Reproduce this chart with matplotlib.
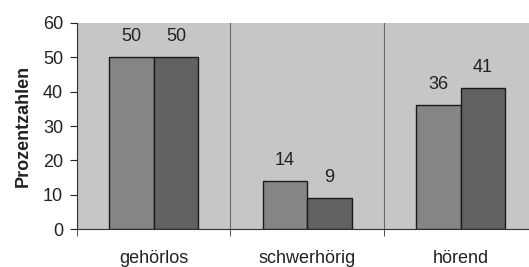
import numpy as np
from matplotlib import pyplot as plt

categories = ["gehörlos", "schwerhörig", "hörend"]
series_a = [50, 14, 36]
series_b = [50, 9, 41]

plt.rcParams['font.family'] = ['Liberation Sans', 'DejaVu Sans']

fig = plt.figure(figsize=(5.29, 2.67), dpi=100)
ax = fig.add_axes([0.1456, 0.142, 0.87, 0.772])
ax.set_facecolor('#c6c6c6')

x = np.arange(len(categories))
width = 0.29
bars_a = ax.bar(x - width / 2, series_a, width, color='#858585', edgecolor='#1a1a1a', linewidth=1.0)
bars_b = ax.bar(x + width / 2, series_b, width, color='#626262', edgecolor='#1a1a1a', linewidth=1.0)

for rects, vals in ((bars_a, series_a), (bars_b, series_b)):
    for r, v in zip(rects, vals):
        ax.annotate(str(v), (r.get_x() + r.get_width() / 2, v), xytext=(0, 15),
                    textcoords='offset points', ha='center', va='center', fontsize=13, color='#222222')

ax.set_xlim(-0.5, 2.5)
ax.set_ylim(0, 60)
ax.set_yticks(range(0, 61, 10))
ax.set_xticks(x, categories, fontsize=13)
ax.set_xticks([-0.5, 0.5, 1.5, 2.5], minor=True)
ax.tick_params(axis='x', which='major', length=0, pad=15, colors='#222222')
ax.tick_params(axis='x', which='minor', length=5, color='#333333')
ax.tick_params(axis='y', labelsize=13, length=5, pad=5, colors='#222222')
ax.grid(axis='x', which='minor', color='#6a6a6a', linewidth=0.8)
ax.set_axisbelow(True)

for s in ('top', 'right'):
    ax.spines[s].set_visible(False)
ax.spines['left'].set_color('#333333')
ax.spines['bottom'].set_color('#333333')

ax.set_ylabel('Prozentzahlen', fontsize=13, fontweight='bold', color='#222222', labelpad=8)

fig.savefig('out.png', dpi=100)
